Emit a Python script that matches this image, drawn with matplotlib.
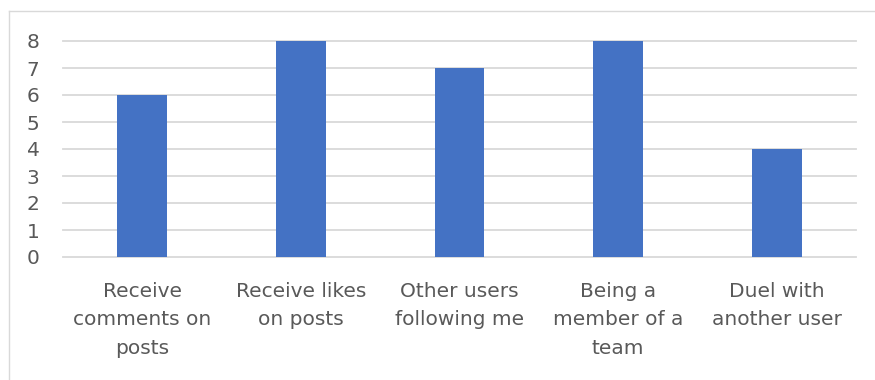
import matplotlib
matplotlib.use("Agg")
import matplotlib.pyplot as plt
from matplotlib.lines import Line2D

categories = [
    "Receive\ncomments on\nposts",
    "Receive likes\non posts",
    "Other users\nfollowing me",
    "Being a\nmember of a\nteam",
    "Duel with\nanother user",
]
values = [6, 8, 7, 8, 4]
y_ticks = [0, 1, 2, 3, 4, 5, 6, 7, 8]

plt.rcParams["font.family"] = ["DejaVu Sans"]
text_color = "#595959"
grid_color = "#d9d9d9"
bar_color = "#4472C4"

W, H = 875, 380
fig = plt.figure(figsize=(W / 100, H / 100), dpi=100)
ax = fig.add_axes([63 / W, 1 - 257 / H, (856 - 63) / W, (257 - 41) / H])

x = list(range(len(categories)))
ax.bar(x, values, width=0.315, color=bar_color, zorder=3)
ax.set_xlim(-0.5, len(categories) - 0.5)
ax.set_ylim(0, 8)
ax.set_yticks(y_ticks)
ax.set_xticks(x)
ax.set_xticklabels(categories, linespacing=1.62)

ax.yaxis.grid(True, color=grid_color, linewidth=1.3, zorder=0)
for gl in ax.get_ygridlines():
    gl.set_clip_on(False)
ax.set_axisbelow(True)
for s in ax.spines.values():
    s.set_visible(False)
ax.tick_params(axis="both", length=0, colors=text_color, labelsize=14.5)
ax.tick_params(axis="y", pad=17)
ax.tick_params(axis="x", pad=18)

# chart-area frame (top and left edges)
fig.add_artist(Line2D([8.5 / W, 1.0], [1 - 10.5 / H, 1 - 10.5 / H],
                      transform=fig.transFigure, color=grid_color, linewidth=1))
fig.add_artist(Line2D([8.5 / W, 8.5 / W], [0, 1 - 10.5 / H],
                      transform=fig.transFigure, color=grid_color, linewidth=1))

fig.savefig("out.png", dpi=100, facecolor="white")
